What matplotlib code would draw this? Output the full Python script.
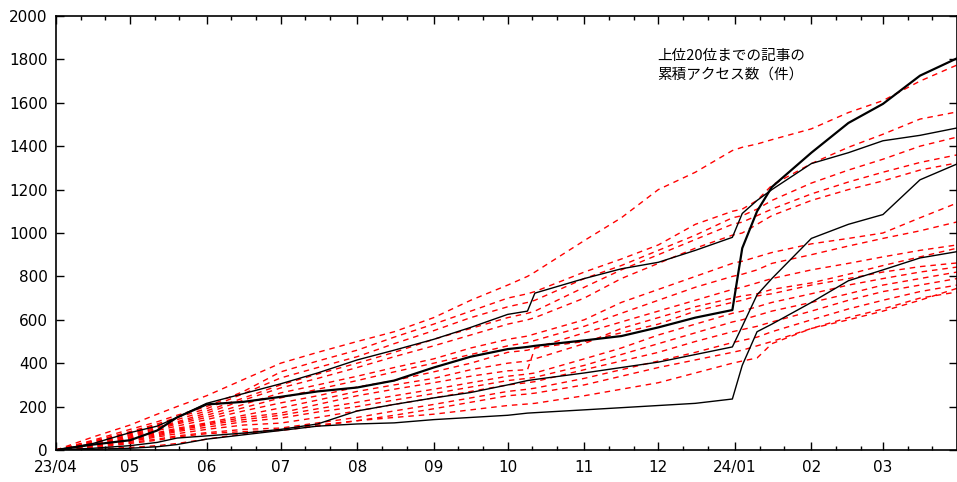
import matplotlib
matplotlib.use("Agg")
import matplotlib.pyplot as plt
import matplotlib.dates as mdates
from matplotlib.ticker import FuncFormatter
import pandas as pd

# sample dates
dates = pd.to_datetime([
    "2023-04-01", "2023-04-16", "2023-05-01", "2023-05-12", "2023-05-20",
    "2023-06-01", "2023-06-16", "2023-07-01", "2023-07-16", "2023-08-01",
    "2023-08-16", "2023-09-01", "2023-09-16", "2023-10-01", "2023-10-09",
    "2023-10-12", "2023-11-01", "2023-11-16", "2023-12-01", "2023-12-16",
    "2023-12-31", "2024-01-04", "2024-01-10", "2024-01-16", "2024-02-01",
    "2024-02-16", "2024-03-01", "2024-03-16", "2024-03-31",
])

# black solid lines (first one drawn thicker)
black_a = [0, 25, 45, 90, 150, 210, 222, 245, 270, 288, 320, 380, 430, 465, 475, 480,
           505, 525, 565, 610, 645, 930, 1100, 1212, 1370, 1507, 1595, 1725, 1805]
black_b = [0, 30, 80, 110, 150, 215, 260, 305, 355, 415, 460, 510, 565, 625, 640, 723,
           790, 835, 865, 920, 980, 1090, 1150, 1200, 1320, 1370, 1425, 1450, 1484]
black_c = [0, 8, 20, 35, 55, 65, 78, 95, 120, 180, 210, 240, 265, 300, 320, 325,
           355, 380, 405, 440, 475, 570, 715, 790, 975, 1040, 1085, 1245, 1318]
black_e = [0, 3, 8, 15, 25, 50, 70, 90, 110, 120, 125, 140, 150, 160, 170, 172,
           185, 195, 205, 215, 235, 390, 545, 580, 680, 780, 830, 885, 914]

# red dashed lines
red_lines = [
    [0, 60, 115, 165, 200, 250, 325, 400, 450, 500, 545, 610, 690, 760, 800, 820,
     965, 1070, 1200, 1280, 1380, 1395, 1410, 1430, 1480, 1555, 1610, 1700, 1774],
    [0, 45, 95, 130, 160, 200, 270, 360, 410, 460, 520, 580, 640, 700, 720, 730,
     820, 880, 945, 1040, 1100, 1110, 1150, 1220, 1320, 1395, 1455, 1525, 1558],
    [0, 40, 85, 120, 150, 190, 260, 332, 380, 430, 490, 550, 610, 660, 680, 690,
     790, 850, 920, 990, 1070, 1080, 1110, 1150, 1230, 1290, 1340, 1400, 1442],
    [0, 35, 80, 115, 140, 180, 240, 300, 350, 400, 450, 510, 560, 610, 630, 640,
     750, 830, 900, 970, 1040, 1050, 1080, 1110, 1180, 1235, 1280, 1325, 1360],
    [0, 40, 75, 105, 130, 170, 230, 286, 330, 380, 430, 480, 530, 580, 600, 610,
     700, 790, 860, 930, 990, 1000, 1040, 1080, 1150, 1200, 1240, 1290, 1323],
    [0, 30, 70, 100, 125, 160, 210, 263, 300, 340, 380, 420, 470, 510, 525, 535,
     600, 680, 740, 800, 860, 870, 890, 910, 950, 975, 1000, 1070, 1138],
    [0, 35, 65, 95, 120, 150, 195, 240, 280, 320, 360, 400, 440, 480, 495, 505,
     570, 630, 690, 750, 800, 810, 830, 860, 900, 940, 975, 1010, 1051],
    [0, 30, 60, 90, 110, 140, 180, 217, 250, 290, 320, 360, 400, 450, 460, 470,
     540, 590, 640, 690, 740, 750, 770, 790, 830, 860, 890, 920, 945],
    [0, 25, 55, 80, 100, 125, 160, 194, 230, 270, 300, 330, 370, 400, 410, 420,
     490, 560, 610, 660, 700, 710, 720, 740, 770, 810, 850, 890, 930],
    [0, 25, 55, 75, 95, 120, 150, 170, 210, 250, 280, 310, 340, 365, 370, 470,
     500, 540, 580, 640, 680, 690, 710, 720, 760, 790, 820, 845, 862],
    [0, 20, 50, 70, 90, 115, 140, 160, 190, 220, 250, 280, 310, 340, 350, 355,
     420, 470, 530, 580, 630, 640, 660, 680, 720, 760, 790, 820, 843],
    [0, 20, 45, 65, 85, 105, 130, 147, 175, 200, 230, 260, 290, 320, 330, 335,
     390, 440, 490, 540, 590, 600, 620, 640, 680, 720, 760, 790, 820],
    [0, 15, 40, 60, 75, 95, 115, 124, 150, 180, 210, 240, 270, 300, 310, 315,
     370, 410, 450, 500, 545, 555, 570, 590, 640, 690, 730, 760, 790],
    [0, 15, 35, 50, 65, 80, 95, 101, 125, 150, 180, 210, 240, 270, 280, 285,
     330, 370, 410, 450, 495, 505, 520, 545, 600, 650, 690, 730, 760],
    [0, 10, 30, 45, 60, 75, 85, 90, 110, 135, 160, 190, 220, 250, 258, 262,
     300, 340, 380, 415, 450, 460, 480, 500, 560, 610, 650, 700, 728],
    [0, 5, 12, 20, 30, 50, 75, 95, 115, 135, 150, 165, 185, 205, 212, 215,
     250, 280, 310, 355, 400, 410, 424, 490, 560, 600, 640, 690, 745],
]

y_ticks = list(range(0, 2001, 200))
label_text = "上位20位までの記事の\n累積アクセス数（件）"

plt.rcParams["font.family"] = ["DejaVu Sans"]

fig = plt.figure(figsize=(9.57, 4.82), dpi=100)
ax = fig.add_axes([56 / 957, 1 - 450 / 482, 1 - 56 / 957, (450 - 16) / 482])

for vals in red_lines:
    ax.plot(dates, vals, color="#ff0000", lw=1.0, dashes=(4, 3.5))

ax.plot(dates, black_b, color="black", lw=1.0)
ax.plot(dates, black_c, color="black", lw=1.0)
ax.plot(dates, black_e, color="black", lw=1.0)
ax.plot(dates, black_a, color="black", lw=1.6)

ax.set_xlim(pd.Timestamp("2023-04-01"), pd.Timestamp("2024-03-31"))
ax.set_ylim(0, 2000)
ax.set_yticks(y_ticks)

ax.xaxis.set_major_locator(mdates.MonthLocator())
ax.xaxis.set_minor_locator(mdates.DayLocator(bymonthday=[11, 21]))


def fmt_month(x, pos):
    d = mdates.num2date(x)
    if pos == 0 or d.month == 1:
        return d.strftime("%y/%m")
    return d.strftime("%m")


ax.xaxis.set_major_formatter(FuncFormatter(fmt_month))

ax.tick_params(which="both", direction="in", top=True, right=True, width=1, colors="black")
ax.tick_params(which="major", length=6, labelsize=11)
ax.tick_params(which="minor", length=3)
ax.tick_params(axis="x", which="major", pad=7)
ax.tick_params(axis="y", which="major", pad=6)
for s in ax.spines.values():
    s.set_linewidth(1.2)

ax.text(0.667, 0.925, label_text, transform=ax.transAxes, ha="left", va="top",
        fontsize=10.5, linespacing=1.45,
        family=["Noto Sans CJK JP", "DejaVu Sans"])

fig.savefig("out.png", dpi=100)
